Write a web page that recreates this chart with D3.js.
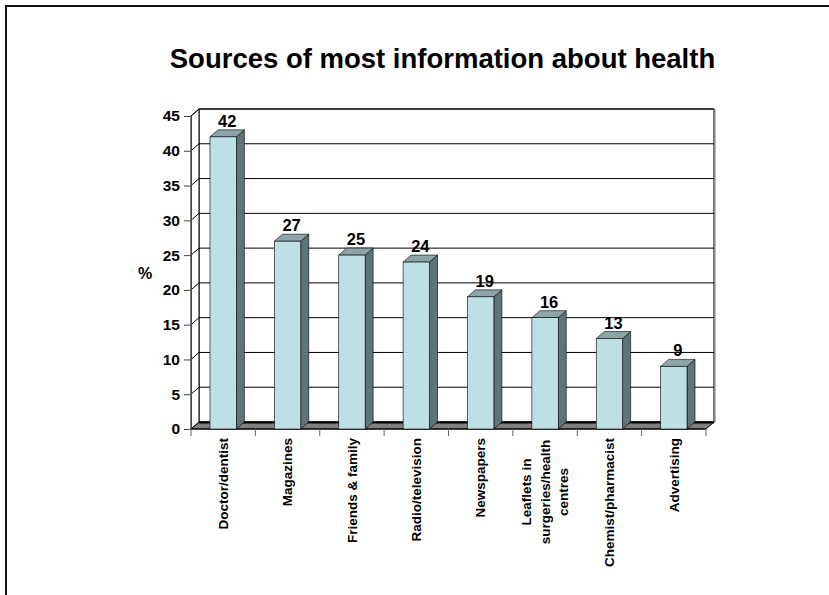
<!DOCTYPE html>
<html><head><meta charset="utf-8">
<script src="https://cdn.jsdelivr.net/npm/d3@7/dist/d3.min.js"></script>
<style>
html,body{margin:0;padding:0;background:#fff;}
svg{display:block;font-family:"Liberation Sans",Arial,sans-serif;}
</style></head>
<body>
<svg id="chart" width="829" height="595"></svg>
<script>
const titleText = "Sources of most information about health";
const categories = ["Doctor/dentist","Magazines","Friends & family","Radio/television","Newspapers","Leaflets in|surgeries/health|centres","Chemist/pharmacist","Advertising"];
const values = [42,27,25,24,19,16,13,9];
const yTicks = [0,5,10,15,20,25,30,35,40,45];
const yLabel = "%";

(function(){
const svg = d3.select("#chart");
const W = 829, H = 595;
const DX = 8, DY = -7;
const pLeft = 191, pRight = 706, pTop = 116, pBottom = 429;

// frame
svg.append("rect").attr("x",6).attr("y",6).attr("width",W+20).attr("height",H+20)
  .attr("fill","none").attr("stroke","#111").attr("stroke-width",2);

const x = d3.scaleBand().domain(categories).range([pLeft,pRight]).paddingInner(0.59).paddingOuter(0.295);
const y = d3.scaleLinear().domain([0,45]).range([pBottom,pTop]);

// back wall
svg.append("rect").attr("x",pLeft+DX).attr("y",y(45)+DY).attr("width",pRight-pLeft).attr("height",y(0)-y(45))
  .attr("fill","#fff").attr("stroke","#000").attr("stroke-width",1);
svg.append("line").attr("x1",pRight+DX+0.5).attr("x2",pRight+DX+0.5).attr("y1",y(45)+DY).attr("y2",y(0)+DY)
  .attr("stroke","#808080").attr("stroke-width",2);

// left wall
svg.append("path").attr("d",`M${pLeft},${y(45)}L${pLeft+DX},${y(45)+DY}L${pLeft+DX},${y(0)+DY}L${pLeft},${y(0)}Z`)
  .attr("fill","#fff").attr("stroke","#000").attr("stroke-width",1);

// gridlines
yTicks.filter(t=>t>0).forEach(t=>{
  svg.append("line").attr("x1",pLeft+DX).attr("x2",pRight+DX).attr("y1",y(t)+DY).attr("y2",y(t)+DY)
    .attr("stroke","#000").attr("stroke-width",1);
  svg.append("line").attr("x1",pLeft).attr("x2",pLeft+DX).attr("y1",y(t)).attr("y2",y(t)+DY)
    .attr("stroke","#000").attr("stroke-width",1);
});

// floor
svg.append("path").attr("d",`M${pLeft},${y(0)}L${pRight},${y(0)}L${pRight+DX},${y(0)+DY}L${pLeft+DX},${y(0)+DY}Z`)
  .attr("fill","#808080").attr("stroke","#000").attr("stroke-width",1);
svg.append("line").attr("x1",pLeft+DX).attr("x2",pRight+DX).attr("y1",y(0)+DY+0.5).attr("y2",y(0)+DY+0.5)
  .attr("stroke","#000").attr("stroke-width",2);

// y axis
const yAxis = d3.axisLeft(y).tickValues(yTicks).tickSize(7).tickPadding(4);
const ga = svg.append("g").attr("transform",`translate(${pLeft},0)`).call(yAxis);
ga.select(".domain").attr("stroke","#444");
ga.selectAll(".tick line").attr("stroke","#444");
ga.selectAll(".tick text").attr("font-size","15.5px").attr("font-weight","bold").attr("fill","#000")
  .attr("font-family","'Liberation Sans',Arial,sans-serif");

// x axis baseline & ticks
svg.append("line").attr("x1",pLeft).attr("x2",pRight).attr("y1",pBottom).attr("y2",pBottom).attr("stroke","#000").attr("stroke-width",1);
const boundaries = d3.range(categories.length+1).map(i=>pLeft + i*x.step());
svg.selectAll(".xt").data(boundaries).enter().append("line")
  .attr("x1",d=>d).attr("x2",d=>d).attr("y1",pBottom).attr("y2",pBottom+7).attr("stroke","#666");

// bars
const bars = svg.selectAll(".bar").data(categories.map((c,i)=>({c,v:values[i]}))).enter().append("g");
bars.append("path").attr("d",d=>{const x0=x(d.c)+x.bandwidth(), yt=y(d.v);
  return `M${x0},${yt}L${x0+DX},${yt+DY}L${x0+DX},${y(0)+DY}L${x0},${y(0)}Z`;})
  .attr("fill","#5F7475").attr("stroke","#000").attr("stroke-width",0.6);
bars.append("path").attr("d",d=>{const x0=x(d.c), bw=x.bandwidth(), yt=y(d.v);
  return `M${x0},${yt}L${x0+DX},${yt+DY}L${x0+bw+DX},${yt+DY}L${x0+bw},${yt}Z`;})
  .attr("fill","#8CA6A8").attr("stroke","#000").attr("stroke-width",0.6);
bars.append("rect").attr("x",d=>x(d.c)).attr("y",d=>y(d.v)).attr("width",x.bandwidth()).attr("height",d=>y(0)-y(d.v))
  .attr("fill","#BDE0E4").attr("stroke","#000").attr("stroke-width",0.6);
bars.append("text").attr("x",d=>x(d.c)+x.bandwidth()/2+DX/2).attr("y",d=>y(d.v)+DY-3)
  .attr("text-anchor","middle").attr("font-size","16.5px").attr("font-weight","bold").text(d=>d.v);

// category labels
categories.forEach(c=>{
  const lines = c.split("|");
  const cx = x(c)+x.bandwidth()/2;
  const g = svg.append("g");
  const n = lines.length;
  lines.forEach((ln,i)=>{
    const off = (i-(n-1)/2)*18.3;
    const t = g.append("text").attr("font-size","13.5px").attr("font-weight","bold").text(ln);
    if(n===1){
      t.attr("text-anchor","end").attr("transform",`translate(${cx+off},438) rotate(-90)`).attr("dy","0.35em");
    } else {
      t.attr("text-anchor","middle").attr("transform",`translate(${cx+off},492) rotate(-90)`).attr("dy","0.35em");
    }
  });
});

// y label
svg.append("text").attr("x",145).attr("y",279).attr("text-anchor","middle").attr("font-size","16px").attr("font-weight","bold").text(yLabel);

// title
svg.append("text").attr("x",442.5).attr("y",68).attr("text-anchor","middle").attr("font-size","27.5px").attr("font-weight","bold").text(titleText);
})();
</script>
</body></html>
